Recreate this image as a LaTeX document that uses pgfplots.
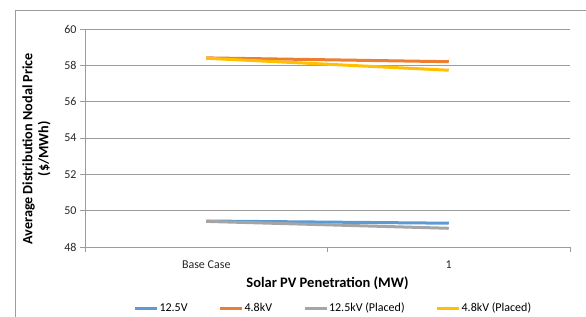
\documentclass[border=0pt]{standalone}
\usepackage{pgfplots}
\pgfplotsset{compat=1.18}
\usepackage{fontspec}
\setmainfont{Carlito}
\definecolor{cblue}{HTML}{5B9BD5}
\definecolor{corange}{HTML}{ED7D31}
\definecolor{cgray}{HTML}{A5A5A5}
\definecolor{cyellow}{HTML}{FFC000}
\definecolor{gridc}{HTML}{9C9C9C}
\begin{document}
\begin{tikzpicture}[x=1pt,y=1pt]
\begin{axis}[
  scale only axis, width=485pt, height=218pt,
  xmin=-0.5, xmax=1.5, ymin=48, ymax=60,
  ytick={48,50,...,60},
  xtick={0,1}, xticklabels={Base Case,1},
  minor xtick={-0.5,0.5,1.5},
  major x tick style={draw=none},
  axis x line*=bottom, axis y line*=left,
  axis line style={gridc, line width=0.9pt},
  every tick/.style={gridc, line width=0.9pt},
  tick align=outside, major tick length=5pt, minor tick length=5pt,
  ymajorgrids, grid style={gridc, line width=0.9pt},
  /pgf/number format/assume math mode=true,
  tick label style={font=\fontsize{12}{14}\selectfont, text=black!85},
  xticklabel style={yshift=-5pt},
  xlabel={Solar PV Penetration (MW)},
  xlabel style={at={(axis description cs:0.5,-0.165)}, anchor=center, font=\fontsize{14.5}{16}\selectfont\bfseries},
  ylabel={Average Distribution Nodal Price\\(\$/MWh)},
  ylabel style={at={(axis description cs:-0.1,0.45)}, anchor=center, rotate=0, align=center, font=\fontsize{14.2}{16}\selectfont\bfseries},
  legend columns=4,
  legend style={at={(axis description cs:0.511,-0.28)}, anchor=center, draw=none, fill=none,
    font=\fontsize{12}{14}\selectfont, nodes={inner sep=1pt},
    /tikz/every even column/.append style={column sep=30pt}},
  legend image code/.code={\draw[#1, line width=3pt] (0pt,0pt) -- (22pt,0pt);},
  every axis plot/.append style={line width=3pt},
]
\addplot[cblue] coordinates {(0,49.43) (1,49.31)};
\addlegendentry{12.5V}
\addplot[corange] coordinates {(0,58.41) (1,58.20)};
\addlegendentry{4.8kV}
\addplot[cgray] coordinates {(0,49.41) (1,49.03)};
\addlegendentry{12.5kV (Placed)}
\addplot[cyellow] coordinates {(0,58.39) (1,57.73)};
\addlegendentry{4.8kV (Placed)}
\coordinate (O) at (rel axis cs:0,0);
\end{axis}
\draw[gridc, line width=0.9pt] ([shift={(-70,-100)}]O) -- ([shift={(-70,237)}]O) -- ([shift={(560,237)}]O);
\pgfresetboundingbox
\path[use as bounding box] ([shift={(-85,-69)}]O) rectangle ([shift={(501,247)}]O);
\end{tikzpicture}
\end{document}
